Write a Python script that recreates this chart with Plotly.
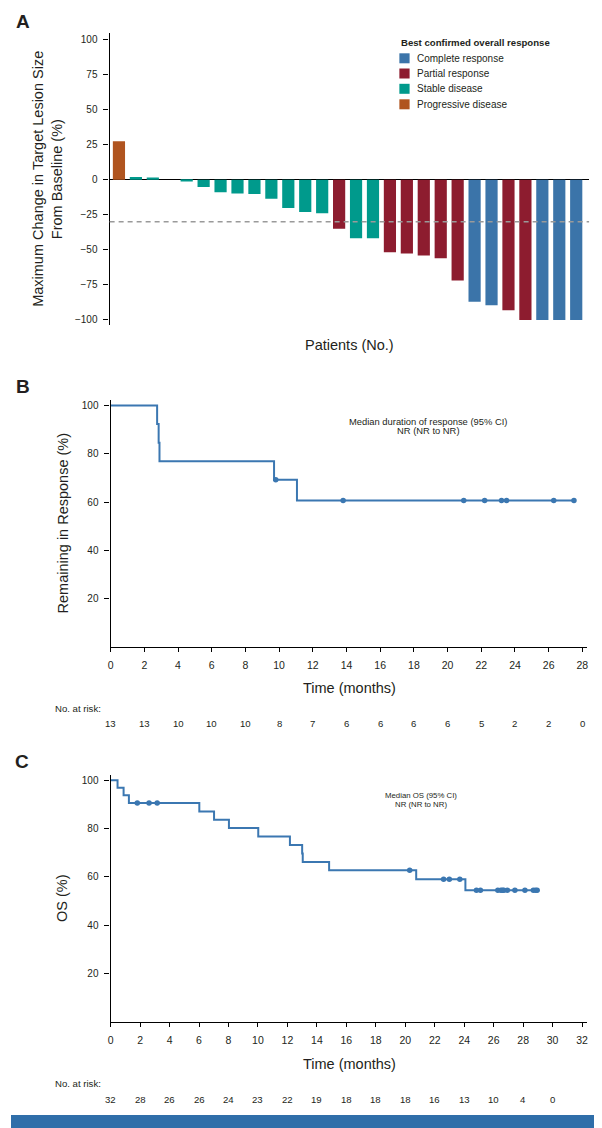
import plotly.graph_objects as go

# ---------------- Data ----------------
# Panel A: waterfall of maximum change in target lesion size (%)
patient_index = list(range(28))
max_change = [27.4, 1.9, 1.5, 0.0, -1.4, -5.2, -9.0, -9.8, -10.2, -13.6, -20.2, -23.1,
              -24.0, -35.0, -41.7, -41.7, -51.7, -52.6, -54.0, -56.0, -71.9, -87.1,
              -89.5, -93.1, -100.0, -100.0, -100.0, -100.0]
best_response = ["PD", "SD", "SD", "SD", "SD", "SD", "SD", "SD", "SD", "SD", "SD", "SD",
                 "SD", "PR", "SD", "SD", "PR", "PR", "PR", "PR", "PR", "CR",
                 "CR", "PR", "PR", "CR", "CR", "CR"]
response_codes = ["CR", "PR", "SD", "PD"]
response_labels = ["Complete response", "Partial response", "Stable disease", "Progressive disease"]
response_colors = ["#3b74a9", "#8d1c2f", "#009a8c", "#b0541f"]
pr_threshold = -30
a_yticks = [100, 75, 50, 25, 0, -25, -50, -75, -100]

# Panel B: duration of response (KM step curve)
dor_time = [0, 2.76, 2.85, 2.9, 9.7, 11.06, 27.5]
dor_surv = [100, 92.3, 84.6, 76.9, 69.2, 60.6, 60.6]
dor_cens_time = [9.8, 13.8, 20.96, 22.2, 23.2, 23.5, 26.3, 27.5]
dor_cens_surv = [69.2, 60.6, 60.6, 60.6, 60.6, 60.6, 60.6, 60.6]
dor_risk_time = [0, 2, 4, 6, 8, 10, 12, 14, 16, 18, 20, 22, 24, 26, 28]
dor_risk_n = [13, 13, 10, 10, 10, 8, 7, 6, 6, 6, 6, 5, 2, 2, 0]

# Panel C: overall survival (KM step curve)
os_time = [0, 0.47, 0.88, 1.24, 6.02, 7.02, 8.03, 10.02, 12.17, 13.0, 13.04, 14.83,
           20.74, 24.08, 28.95]
os_surv = [100, 96.9, 93.8, 90.6, 87.1, 83.7, 80.2, 76.7, 73.2, 69.7, 66.2, 62.7,
           59.0, 54.5, 54.5]
os_cens_time = [1.81, 2.61, 3.16, 20.3, 22.6, 22.99, 23.7, 24.83, 25.1, 26.28, 26.49,
                26.6, 26.69, 26.93, 27.44, 28.12, 28.69, 28.84, 28.95]
os_cens_surv = [90.6, 90.6, 90.6, 62.7, 59.0, 59.0, 59.0, 54.5, 54.5, 54.5, 54.5,
                54.5, 54.5, 54.5, 54.5, 54.5, 54.5, 54.5, 54.5]
os_risk_time = [0, 2, 4, 6, 8, 10, 12, 14, 16, 18, 20, 22, 24, 26, 28, 30]
os_risk_n = [32, 28, 26, 26, 24, 23, 22, 19, 18, 18, 18, 16, 13, 10, 4, 0]

# ---------------- Layout helpers ----------------
# The page body has an 8px default margin, so the figure is offset by 8px.
OFF = 8
W, H = 602 - OFF, 1128 - OFF
FONT = "Liberation Sans, Arial, sans-serif"
TXT = "#231f20"
KM_BLUE = "#3b77b1"


def px(x):
    return (x - OFF) / W


def py(y):
    return 1 - (y - OFF) / H


fig = go.Figure()

# ---- Panel A bars ----
for code, label, color in zip(response_codes, response_labels, response_colors):
    xs = [i for i, r in zip(patient_index, best_response) if r == code]
    ys = [v for v, r in zip(max_change, best_response) if r == code]
    fig.add_trace(go.Bar(x=xs, y=ys, name=label, marker=dict(color=color, line=dict(width=0)),
                         width=0.72, xaxis="x", yaxis="y", showlegend=False))

# ---- Panel B KM ----
fig.add_trace(go.Scatter(x=dor_time, y=dor_surv, mode="lines", line=dict(color=KM_BLUE, width=2, shape="hv"),
                         xaxis="x2", yaxis="y2", showlegend=False, name="Duration of response"))
fig.add_trace(go.Scatter(x=dor_cens_time, y=dor_cens_surv, mode="markers",
                         marker=dict(color=KM_BLUE, size=5.5, symbol="circle"),
                         xaxis="x2", yaxis="y2", showlegend=False, name="Censored"))

# ---- Panel C KM ----
fig.add_trace(go.Scatter(x=os_time, y=os_surv, mode="lines", line=dict(color=KM_BLUE, width=2, shape="hv"),
                         xaxis="x3", yaxis="y3", showlegend=False, name="OS"))
fig.add_trace(go.Scatter(x=os_cens_time, y=os_cens_surv, mode="markers",
                         marker=dict(color=KM_BLUE, size=5.5, symbol="circle"),
                         xaxis="x3", yaxis="y3", showlegend=False, name="Censored"))

axis_common = dict(showgrid=False, linecolor="black", linewidth=1.3, ticks="outside",
                   tickcolor="black", tickwidth=1.1)
ytickfont = dict(family=FONT, size=10, color=TXT)
xtickfont = dict(family=FONT, size=10.5, color=TXT)

fig.update_layout(
    width=W, height=H, margin=dict(l=0, r=0, t=0, b=0),
    paper_bgcolor="white", plot_bgcolor="white", barmode="overlay",
    font=dict(family=FONT, color=TXT),
    xaxis=dict(domain=[px(107.3), px(590)], range=[-0.55, 27.76], showline=False,
               showticklabels=False, ticks="", zeroline=False, showgrid=False, anchor="y"),
    yaxis=dict(domain=[py(325), py(33.3)], range=[-103.6, 104.3], tickvals=a_yticks,
               showline=True, zeroline=True, zerolinecolor="black", zerolinewidth=1.3,
               ticklen=5, ticklabelstandoff=4, anchor="x", tickfont=ytickfont, **axis_common),
    xaxis2=dict(domain=[px(108.3), px(588)], range=[0, 28.28], tickvals=dor_risk_time,
                showline=True, zeroline=False, ticklen=4, ticklabelstandoff=5, anchor="y2",
                tickfont=xtickfont, **axis_common),
    yaxis2=dict(domain=[py(646.7), py(400)], range=[0, 102.3], tickvals=[20, 40, 60, 80, 100],
                showline=True, zeroline=False, ticklen=5, ticklabelstandoff=4, anchor="x2",
                tickfont=ytickfont, **axis_common),
    xaxis3=dict(domain=[px(108.3), px(588)], range=[0, 32.34], tickvals=list(range(0, 34, 2)),
                showline=True, zeroline=False, ticklen=4, ticklabelstandoff=5, anchor="y3",
                tickfont=xtickfont, **axis_common),
    yaxis3=dict(domain=[py(1021.7), py(775)], range=[0, 102.2], tickvals=[20, 40, 60, 80, 100],
                showline=True, zeroline=False, ticklen=5, ticklabelstandoff=4, anchor="x3",
                tickfont=ytickfont, **axis_common),
)

shapes = []
annotations = []

# threshold dashed line (panel A)
shapes.append(dict(type="line", xref="x domain", yref="y", x0=0, x1=1, y0=pr_threshold, y1=pr_threshold,
                   line=dict(color="#9a9a9a", width=1.4, dash="5px,4px"), layer="above"))


def note(text, x, y, size, xanchor="center", bold=False, angle=0, yanchor="middle"):
    if bold:
        text = "<b>" + text + "</b>"
    annotations.append(dict(text=text, x=px(x), y=py(y), xref="paper", yref="paper", showarrow=False,
                            xanchor=xanchor, yanchor=yanchor, textangle=angle,
                            font=dict(family=FONT, size=size, color=TXT)))


# Panel labels
note("A", 11.5, 21.5, 19, xanchor="left", bold=True)
note("B", 11.5, 386.5, 19, xanchor="left", bold=True)
note("C", 10.5, 761.5, 19, xanchor="left", bold=True)

# Panel A titles
note("Maximum Change in Target Lesion Size", 35, 179, 14.5, angle=-90)
note("From Baseline (%)", 54.5, 179, 14.5, angle=-90)
note("Patients (No.)", 348.5, 345, 14.5)

# Legend (panel A)
note("Best confirmed overall response", 398.5, 42.3, 9.6, xanchor="left", bold=True)
leg_y = [58.3, 73.5, 88.8, 104.3]
for label, color, yy in zip(response_labels, response_colors, leg_y):
    shapes.append(dict(type="rect", xref="paper", yref="paper", x0=px(399), x1=px(409.3),
                       y0=py(yy + 5), y1=py(yy - 5), fillcolor=color, line=dict(width=0)))
    note(label, 414.3, yy, 10, xanchor="left")

# Panel B titles/notes
note("Remaining in Response (%)", 60.5, 523.3, 14.5, angle=-90)
note("Time (months)", 348.5, 688, 14.5)
note("Median duration of response (95% CI)", 428, 421, 9.4)
note("NR (NR to NR)", 428, 430.8, 9.4)
note("No. at risk:", 50.5, 708, 9.6, xanchor="left")
for t, n in zip(dor_risk_time, dor_risk_n):
    annotations.append(dict(text=str(n), x=t, y=py(723.3), xref="x2", yref="paper", showarrow=False,
                            xanchor="center", yanchor="middle",
                            font=dict(family=FONT, size=9.6, color=TXT)))

# Panel C titles/notes
note("OS (%)", 60, 898.3, 14.5, angle=-90)
note("Time (months)", 348.5, 1063.5, 14.5)
note("Median OS (95% CI)", 421, 795.7, 7.8)
note("NR (NR to NR)", 421, 804, 7.8)
note("No. at risk:", 50, 1083, 9.6, xanchor="left")
for t, n in zip(os_risk_time, os_risk_n):
    annotations.append(dict(text=str(n), x=t, y=py(1099.3), xref="x3", yref="paper", showarrow=False,
                            xanchor="center", yanchor="middle",
                            font=dict(family=FONT, size=9.6, color=TXT)))

# Right frame edge and bottom band
shapes.append(dict(type="line", xref="paper", yref="paper", x0=px(599.8), x1=px(599.8), y0=py(1115), y1=1,
                   line=dict(color="#6a9fd2", width=1.6)))
shapes.append(dict(type="rect", xref="paper", yref="paper", x0=0, x1=1, y0=0, y1=py(1115),
                   line=dict(width=0), fillcolor="#2f6ea9"))

fig.update_layout(shapes=shapes, annotations=annotations)
fig.write_html("out.html")
